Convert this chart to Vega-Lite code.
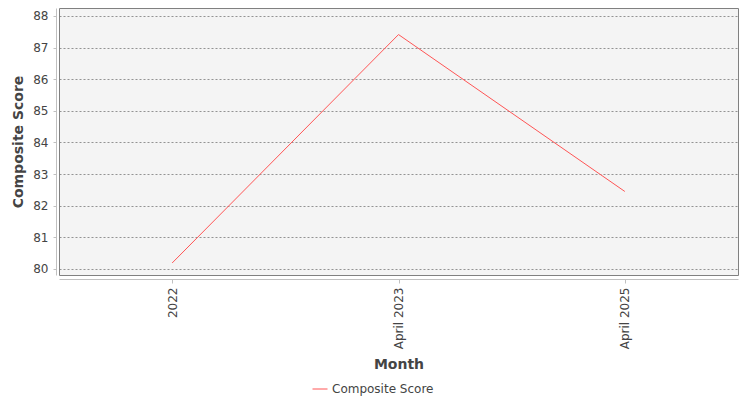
{
  "$schema": "https://vega.github.io/schema/vega-lite/v6.json",
  "autosize": {"type": "none"},
  "padding": {"left": 59, "top": 8, "right": 12, "bottom": 125},
  "width": 679,
  "height": 267,
  "background": "#ffffff",
  "data": {
    "values": [
      {"Month": "2022", "Score": 80.19, "Series": "Composite Score"},
      {"Month": "April 2023", "Score": 87.41, "Series": "Composite Score"},
      {"Month": "April 2025", "Score": 82.45, "Series": "Composite Score"}
    ]
  },
  "mark": {"type": "line", "strokeWidth": 1, "interpolate": "linear"},
  "encoding": {
    "x": {
      "field": "Month",
      "type": "ordinal",
      "sort": null,
      "scale": {"type": "point", "padding": 0.5},
      "title": "Month",
      "axis": {
        "labelAngle": -90,
        "labelAlign": "right",
        "labelBaseline": "middle",
        "labelPadding": 4,
        "offset": 4,
        "grid": false,
        "tickSize": 4,
        "titlePadding": 9
      }
    },
    "y": {
      "field": "Score",
      "type": "quantitative",
      "title": "Composite Score",
      "scale": {"domain": [79.81, 88.25], "nice": false, "zero": false},
      "axis": {
        "values": [80, 81, 82, 83, 84, 85, 86, 87, 88],
        "offset": 3,
        "tickSize": 3,
        "labelPadding": 5,
        "titlePadding": 7,
        "grid": true,
        "gridColor": "#7a7a7a",
        "gridDash": [2, 2],
        "gridWidth": 0.8
      }
    },
    "color": {
      "field": "Series",
      "type": "nominal",
      "scale": {"range": ["#ff5555"]},
      "legend": {
        "title": null,
        "orient": "none",
        "legendX": 253,
        "legendY": 373,
        "symbolType": "stroke",
        "symbolStrokeWidth": 1,
        "symbolSize": 225,
        "labelOffset": 4,
        "labelFontSize": 12,
        "labelColor": "#444444",
        "labelFont": "DejaVu Sans"
      }
    }
  },
  "config": {
    "view": {"fill": "#f4f4f4", "stroke": "#808080", "strokeWidth": 1},
    "axis": {
      "labelFont": "DejaVu Sans",
      "labelFontSize": 12,
      "labelColor": "#444444",
      "titleFont": "DejaVu Sans",
      "titleFontSize": 14,
      "titleFontWeight": "bold",
      "titleColor": "#444444",
      "domainColor": "#c0c0c0",
      "tickColor": "#c0c0c0"
    }
  }
}
